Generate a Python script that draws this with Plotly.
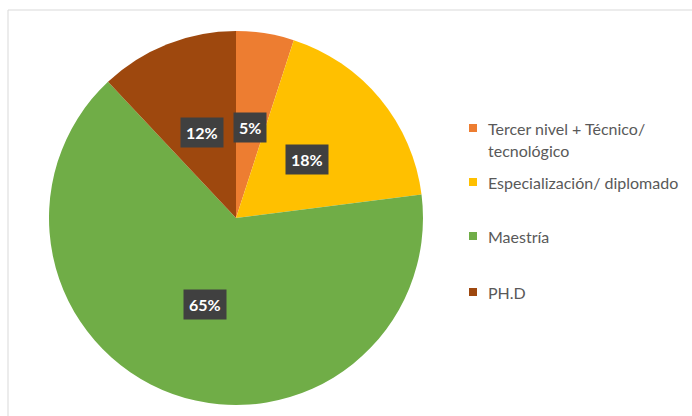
import math
import plotly.graph_objects as go

# Distribution of highest academic level
categories = ["Tercer nivel + Técnico/<br>tecnológico", "Especialización/ diplomado", "Maestría", "PH.D"]
values = [5, 18, 65, 12]
colors = ["#ED7D31", "#FFC000", "#70AD47", "#9E480E"]

W, H = 692, 416
cx, cy, R = 236, 218, 187  # pie centre and radius in pixels

fig = go.Figure()
fig.add_trace(go.Pie(
    labels=[c.replace("<br>", " ") for c in categories],
    values=values,
    sort=False,
    direction="clockwise",
    rotation=0,
    marker=dict(colors=colors, line=dict(width=0)),
    textinfo="none",
    hoverinfo="label+percent",
    showlegend=False,
    domain=dict(x=[(cx - R) / W, (cx + R) / W], y=[1 - (cy + R) / H, 1 - (cy - R) / H]),
))

# Percent labels in dark boxes, placed at mid-angle of each slice
total = sum(values)
cum = 0
for v in values:
    mid = (cum + v / 2) / total * 2 * math.pi
    cum += v
    px = cx + 0.49 * R * math.sin(mid)
    py = cy - 0.49 * R * math.cos(mid)
    fig.add_annotation(
        x=px / W, y=1 - py / H, xref="paper", yref="paper",
        text=f"<b>{round(v / total * 100)}%</b>", showarrow=False,
        font=dict(family="Lato, sans-serif", size=16, color="white"),
        bgcolor="#404040", borderpad=5,
        xanchor="center", yanchor="middle",
    )

# Legend drawn at the right; wrapped labels get one text line per row
legend_y = [128, 182, 236, 292]
line_gap = 23
for cat, col, ly in zip(categories, colors, legend_y):
    fig.add_shape(type="rect", xref="paper", yref="paper",
                  x0=469 / W, x1=477 / W, y0=1 - (ly + 4) / H, y1=1 - (ly - 4) / H,
                  fillcolor=col, line=dict(width=0))
    for i, part in enumerate(cat.split("<br>")):
        fig.add_annotation(
            x=486 / W, y=1 - (ly + i * line_gap) / H, xref="paper", yref="paper",
            text=part, showarrow=False, align="left",
            font=dict(family="Lato, sans-serif", size=16, color="#595959"),
            xanchor="left", yanchor="middle",
        )

# Chart frame
fig.add_shape(type="rect", xref="paper", yref="paper",
              x0=8 / W, x1=1.05, y0=-0.05, y1=1 - 10 / H,
              line=dict(color="#D9D9D9", width=1), fillcolor="rgba(0,0,0,0)", layer="below")

fig.update_layout(
    width=W, height=H,
    margin=dict(l=0, r=0, t=0, b=0),
    paper_bgcolor="white", plot_bgcolor="white",
)

fig.write_html("out.html")
